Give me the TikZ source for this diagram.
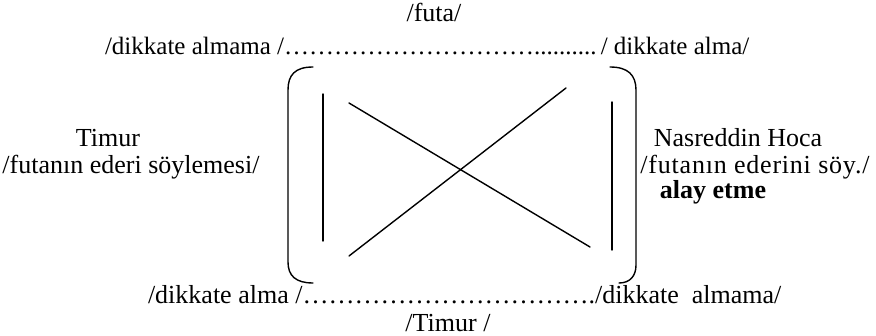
\documentclass[tikz,border=0pt]{standalone}
\usepackage{fontspec}
\setmainfont{Liberation Serif}
\begin{document}
\begin{tikzpicture}[x=1pt,y=-1pt,
  lbl/.style={inner sep=0pt,outer sep=0pt,font=\fontsize{26}{30}\selectfont},
  stroke/.style={line width=1.4pt,line cap=round}]
\useasboundingbox (0,0) rectangle (876,336);
% texts
\node[lbl,anchor=base] (futa) at (434,22) {/futa/};
\node[lbl,anchor=base west,font=\fontsize{25}{30}\selectfont] (top) at (105,55) {/dikkate almama /…………………………..........\,/\ dikkate alma/};
\node[lbl,anchor=base] (timur) at (108,147) {Timur};
\node[lbl,anchor=base] (tsoy) at (131,174) {/futanın ederi söylemesi/};
\node[lbl,anchor=base] (nas) at (738,147) {Nasreddin Hoca};
\node[lbl,anchor=base,font=\fontsize{26}{30}\selectfont\addfontfeature{LetterSpace=3}] (nsoy) at (755,174) {/futanın ederini söy./};
\node[lbl,anchor=base,font=\fontsize{26}{30}\selectfont\bfseries] (alay) at (713,199) {alay etme};
\node[lbl,anchor=base west] (bot) at (148,304) {/dikkate alma /……………………………./dikkate\ \ almama/};
\node[lbl,anchor=base] (btim) at (448,332) {/Timur\ /};
% geometry
\coordinate (lbt) at (313,67);
\coordinate (lbb) at (313,283);
\coordinate (rbt) at (610,67);
\coordinate (rbb) at (619,283);
\coordinate (lt) at (323,94);
\coordinate (lb) at (323,241);
\coordinate (rt) at (612,102);
\coordinate (rb) at (612,250);
\coordinate (a1) at (349,103);
\coordinate (a2) at (590,247);
\coordinate (b1) at (349,256);
\coordinate (b2) at (566,88);
\draw[stroke] (lbt) .. controls (295,67) and (288,75) .. (288,90) -- (288,262) .. controls (288,276) and (296,283) .. (lbb);
\draw[stroke] (rbt) .. controls (628,67) and (636,75) .. (636,90) -- (636,265) .. controls (636,276) and (630,283) .. (rbb);
\draw[stroke] (lt) -- (lb);
\draw[stroke] (rt) -- (rb);
\draw[stroke] (a1) -- (a2);
\draw[stroke] (b1) -- (b2);
\end{tikzpicture}
\end{document}
